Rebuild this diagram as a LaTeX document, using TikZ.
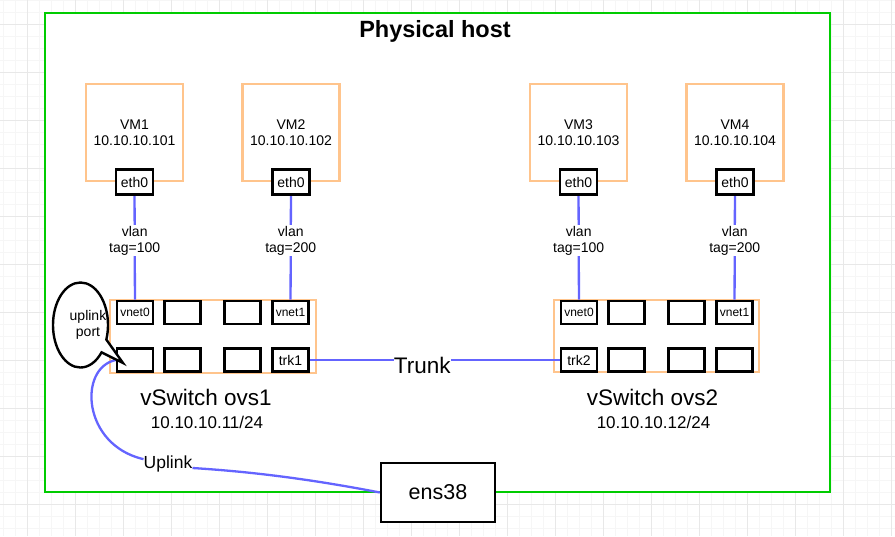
\documentclass[tikz,border=0pt]{standalone}
\usepackage{fontspec}
\setmainfont{Liberation Sans}
\usetikzlibrary{shapes.callouts}
\definecolor{hostgreen}{RGB}{0,204,0}
\definecolor{vmorange}{RGB}{255,196,140}
\definecolor{linkblue}{RGB}{100,100,255}
\definecolor{gridmaj}{RGB}{232,232,232}
\definecolor{gridmin}{RGB}{246,246,246}
\newcommand\fsz[2]{\fontsize{#1}{#2}\selectfont}
\begin{document}
\begin{tikzpicture}[x=1pt,y=-1pt,
  txt/.style={font=\fsz{14}{16},align=center,inner sep=1pt},
  vmbox/.style={draw=vmorange,line width=2.4pt,minimum width=97,minimum height=97,txt},
  swbox/.style={draw=vmorange,line width=2.4pt,inner sep=0pt},
  ifport/.style={draw,line width=2.6pt,fill=white,minimum width=37,minimum height=25,inner sep=0pt,font=\fsz{14}{16}},
  swport/.style={draw,line width=2.6pt,fill=white,minimum width=36,minimum height=23,inner sep=0pt},
  link/.style={draw=linkblue,line width=2.3pt},
  lbl/.style={txt,fill=white}]
\useasboundingbox (0,0) rectangle (895,536);
% grid of the canvas
\foreach \i in {0,...,74}{\draw[gridmin] (3+12*\i,0) -- (3+12*\i,536);}
\foreach \j in {0,...,44}{\draw[gridmin] (0,12*\j) -- (895,12*\j);}
\foreach \i in {0,...,18}{\draw[gridmaj] (27+48*\i,0) -- (27+48*\i,536);}
\foreach \j in {0,...,10}{\draw[gridmaj] (0,24+48*\j) -- (895,24+48*\j);}
% host
\node[draw=hostgreen,fill=white,line width=2.4pt,minimum width=785,minimum height=479,inner sep=0pt] (host) at (437.5,252.5) {};
\node[font=\bfseries\fsz{23.5}{26}] (title) at (435,31) {Physical host};
% virtual machines
\foreach \n/\x/\ip in {1/134.5/101,2/291/102,3/578.5/103,4/735/104}{
  \node[vmbox] (vm\n) at (\x,132.5) {VM\n\\10.10.10.\ip};
  \node[ifport] (eth\n) at (vm\n.south) {eth0};}
% switches
\node[swbox,minimum width=206,minimum height=73] (ovs1) at (213,336.5) {};
\node[swbox,minimum width=205,minimum height=72] (ovs2) at (656.5,336) {};
\foreach \nm/\x/\y/\f/\t in {%
 o1a/135/312.5/12/vnet0, o1b/182.5/312.5/12/{}, o1c/242.5/312.5/12/{}, o1d/290.5/312.5/12/vnet1,
 o1e/135/360/12/{}, o1f/182.5/360/12/{}, o1g/242.5/360/12/{}, o1h/290.5/360/14/trk1,
 o2a/579/312.5/12/vnet0, o2b/626.5/312.5/12/{}, o2c/686.5/312.5/12/{}, o2d/734.5/312.5/12/vnet1,
 o2e/579/360/14/trk2, o2f/626.5/360/12/{}, o2g/686.5/360/12/{}, o2h/734.5/360/12/{}}{
  \node[swport,font=\fsz{\f}{\f}] (\nm) at (\x,\y) {\t};}
\node[font=\fsz{22.5}{26}] (sw1name) at (206,397) {vSwitch ovs1};
\node[font=\fsz{17}{20}] (sw1ip) at (207,422) {10.10.10.11/24};
\node[font=\fsz{22.5}{26}] (sw2name) at (652.5,397) {vSwitch ovs2};
\node[font=\fsz{17}{20}] (sw2ip) at (653.5,422) {10.10.10.12/24};
% vlan links
\foreach \e/\p/\t in {1/o1a/100,2/o1d/200,3/o2a/100,4/o2d/200}{
  \draw[link] (eth\e) -- node[lbl,pos=.43] (tag\e) {vlan\\tag=\t} (\p);}
\draw[link] (o1h) -- node[lbl,font=\fsz{22.5}{26},pos=.45,inner sep=0pt,yshift=-5pt] (trunk) {Trunk} (o2e);
% uplink
\node[draw,line width=2.4pt,fill=white,minimum width=114,minimum height=59,font=\fsz{21.5}{24}] (ens) at (438,492.5) {ens38};
\node[font=\fsz{17.5}{20},inner sep=0pt,anchor=base] (upl) at (168,468) {Uplink};
\draw[link] (ens.west) .. controls (300,477) and (240,471) .. (upl.base east);
\draw[link] (upl.170) .. controls (82,445) and (78,368) .. (o1e.west);
\node[ellipse callout,draw,line width=2.4pt,fill=white,minimum width=55,minimum height=85,
  callout absolute pointer={(123,363)},callout pointer arc=20] (bubble) at (80.5,325) {};
\node[txt] (bubtxt) at (88,325) {uplink\\port};
\end{tikzpicture}
\end{document}
